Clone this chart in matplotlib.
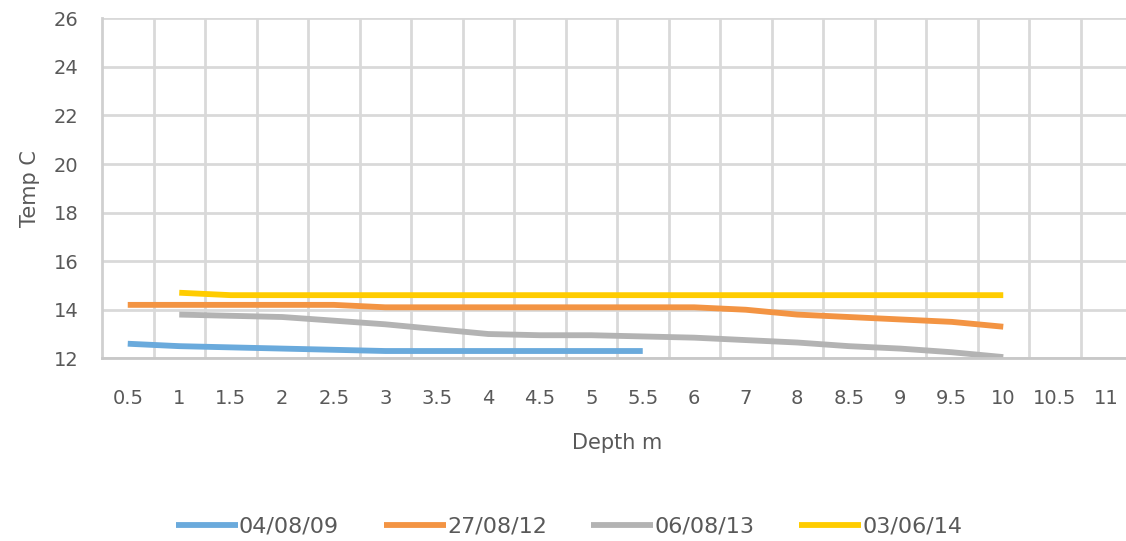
import numpy as np
import matplotlib
matplotlib.use("Agg")
import matplotlib.pyplot as plt

plt.rcParams['font.family'] = ['DejaVu Sans']

depths = ['0.5', '1', '1.5', '2', '2.5', '3', '3.5', '4', '4.5', '5', '5.5',
          '6', '7', '8', '8.5', '9', '9.5', '10', '10.5', '11']
nan = np.nan
t_040809 = [12.6, 12.5, 12.45, 12.4, 12.35, 12.3, 12.3, 12.3, 12.3, 12.3, 12.3,
            nan, nan, nan, nan, nan, nan, nan, nan, nan]
t_270812 = [14.2, 14.2, 14.2, 14.2, 14.2, 14.1, 14.1, 14.1, 14.1, 14.1, 14.1,
            14.1, 14.0, 13.8, 13.7, 13.6, 13.5, 13.3, nan, nan]
t_060813 = [nan, 13.8, 13.75, 13.7, 13.55, 13.4, 13.2, 13.0, 12.95, 12.95, 12.9,
            12.85, 12.75, 12.65, 12.5, 12.4, 12.25, 12.05, nan, nan]
t_030614 = [nan, 14.7, 14.6, 14.6, 14.6, 14.6, 14.6, 14.6, 14.6, 14.6, 14.6,
            14.6, 14.6, 14.6, 14.6, 14.6, 14.6, 14.6, nan, nan]

series = [('04/08/09', t_040809, '#6aaadc'),
          ('27/08/12', t_270812, '#f39443'),
          ('06/08/13', t_060813, '#b3b3b3'),
          ('03/06/14', t_030614, '#ffcc00')]

fig = plt.figure(figsize=(11.26, 5.41), dpi=100)
ax = fig.add_axes([102/1126, 1-358.3/541, 1030/1126, (358.3-18.3)/541])

x = np.arange(len(depths))
for name, vals, col in series:
    ax.plot(x, vals, color=col, lw=4.2, label=name, solid_capstyle='butt')

ax.set_xlim(-0.5, len(depths)-0.5)
ax.set_ylim(12, 26)
ax.set_yticks(np.arange(12, 27, 2))
ax.set_xticks(x)
ax.set_xticklabels(depths)
ax.set_xticks(np.arange(0.5, len(depths)-0.5, 1), minor=True)

ax.grid(True, axis='y', which='major', color='#d9d9d9', lw=2)
ax.grid(True, axis='x', which='minor', color='#d9d9d9', lw=2)
ax.set_axisbelow(True)
for s in ['top', 'right']:
    ax.spines[s].set_visible(False)
ax.spines['left'].set_color('#d0d0d0')
ax.spines['left'].set_linewidth(2)
ax.spines['bottom'].set_color('#c8c8c8')
ax.spines['bottom'].set_linewidth(2)

ax.tick_params(axis='both', which='both', length=0, labelsize=14, colors='#595959')
ax.tick_params(axis='y', pad=17)
ax.tick_params(axis='x', pad=22)

ax.set_ylabel('Temp C', fontsize=15, color='#595959', labelpad=10)
ax.set_xlabel('Depth m', fontsize=15, color='#595959', labelpad=18)

fig.legend(loc='center', bbox_to_anchor=(569/1126, 1-527/541), ncol=4,
           frameon=False, fontsize=16, handlelength=2.8, handletextpad=0.05,
           columnspacing=2.0, labelcolor='#595959')

fig.savefig('out.png', dpi=100)
